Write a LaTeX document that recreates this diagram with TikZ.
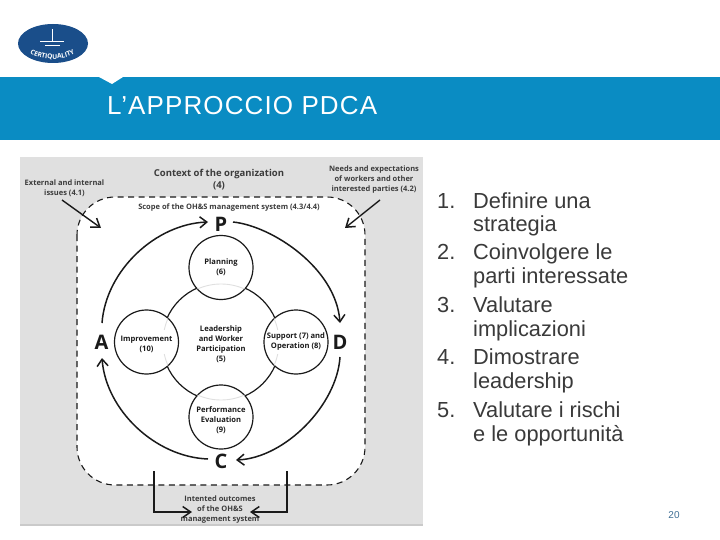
\documentclass[tikz,border=0pt]{standalone}
\usepackage{fontspec}
\setmainfont{Liberation Sans}
\newfontfamily\diagfont{Open Sans}
\usetikzlibrary{arrows.meta,decorations.text,shapes.geometric}
\definecolor{band}{HTML}{0A8CC3}
\definecolor{logoblue}{HTML}{1A4E8A}
\definecolor{panel}{HTML}{E0E0E0}
\definecolor{ink}{HTML}{1A1A1A}
\definecolor{listtext}{HTML}{3A3A3A}
\definecolor{pagenum}{HTML}{3F6F95}
\tikzset{
  x=1pt,y=-1pt,
  phasefont/.style={align=center,font=\diagfont\bfseries\fontsize{7.6}{10}\selectfont,text=ink},
  phase/.style={circle,draw=ink,line width=1.2pt,fill=white,minimum size=64pt,inner sep=0pt,phasefont},
  phaselabel/.style={phasefont,inner sep=0pt},
  core/.style={circle,draw=ink,line width=1.2pt,minimum size=118pt,inner sep=0pt},
  faintarc/.style={draw=panel,line width=0.9pt},
  letter/.style={font=\diagfont\bfseries\fontsize{20}{20}\selectfont,text=ink,inner sep=0pt},
  caption/.style={align=center,font=\diagfont\bfseries\fontsize{7.5}{10}\selectfont,text=ink!85!white,inner sep=0pt},
  cyclearrow/.style={draw=ink,line width=1.5pt,-{Straight Barb[length=7pt,width=11pt,line width=1.5pt]}},
  pointer/.style={draw=ink,line width=1.4pt,-{Straight Barb[length=8pt,width=11pt,line width=1.5pt]}},
  listitem/.style={anchor=base west,inner sep=0pt,text=listtext,font=\fontsize{21.8}{22}\selectfont},
}
\begin{document}
\begin{tikzpicture}
\useasboundingbox (0,0) rectangle (720,540);
\fill[white] (0,0) rectangle (720,540);
% header band
\fill[band] (0,77) rectangle (720,140);
\fill[white] (99,77) -- (123,77) -- (112,84) -- cycle;
\node[anchor=base west,inner sep=0pt,text=white,font=\addfontfeature{LetterSpace=4.3}\fontsize{26}{26}\selectfont] (title) at (107,115) {L’APPROCCIO PDCA};
% logo
\node[ellipse,fill=logoblue,minimum width=70pt,minimum height=39pt,inner sep=0pt] (logo) at (53,43.5) {};
\draw[white,line width=0.9pt] (52,29) -- (52,42) (40,41.7) -- (64,41.7) (45,45.2) -- (60,45.2);
\path[decorate,decoration={text along path,text align=center,text={|\diagfont\bfseries\fontsize{6.6}{6}\selectfont\color{white}|CERTIQUALITY}}]
  (24,48) .. controls (36,62) and (68,63) .. (81,49);
% panel
\fill[panel] (20,157) rectangle (423,526);
\fill[panel!90!black] (20,524) rectangle (423,526);
\draw[fill=white,draw=ink,line width=1.1pt,dash pattern=on 6pt off 4.5pt,rounded corners=38pt] (77,197) rectangle (365,485);
% core and phases
\node[core] (lead) at (221,342) {};
\node[phase] (plan) at (221,267.5) {Planning\\(6)};
\node[phase,label={[phaselabel,yshift=-2pt]center:Improvement\\(10)}] (impr) at (146.5,342) {};
\node[phase] (supp) at (296,342) {Support (7) and\\Operation (8)};
\node[phase,label={[phaselabel,yshift=-3pt]center:Performance\\Evaluation\\(9)}] (perf) at (221,417) {};
\foreach \a/\b in {66/114,246/294,-24/-12,12/24,156/168,192/204}
  \draw[faintarc] ({221+58*cos(\a)},{342+58*sin(\a)}) arc[start angle=\a,end angle=\b,radius=58];
\node[phaselabel] (leadtext) at (221,344.5) {Leadership\\and Worker\\Participation\\(5)};
% letters
\node[letter] (P) at (221,224) {P};
\node[letter] (D) at (340,342) {D};
\node[letter] (C) at (221,461) {C};
\node[letter] (A) at (101.5,342) {A};
\draw[cyclearrow] (233,222) .. controls (272,226) and (336,268) .. (340,323);
\draw[cyclearrow] (340,357) .. controls (337,405) and (285,458) .. (236,460);
\draw[cyclearrow] (208,459) .. controls (155,457) and (106,410) .. (102,358);
\draw[cyclearrow] (102,323) .. controls (106,270) and (156,224) .. (208,222);
% captions
\node[caption,font=\diagfont\bfseries\fontsize{9.5}{12}\selectfont] (ctx) at (219,179.5) {Context of the organization\\(4)};
\node[caption] (ext) at (64.5,188) {External and internal\\issues (4.1)};
\node[caption] (needs) at (374,180) {Needs and expectations\\of workers and other\\interested parties (4.2)};
\node[caption] (scope) at (229,208) {Scope of the OH\&S management system (4.3/4.4)};
\node[caption] (out) at (220,510) {Intented outcomes\\of the OH\&S\\management system};
\coordinate (extstart) at (62,200);
\coordinate (extend) at (101,228);
\coordinate (needstart) at (380,200);
\coordinate (needend) at (345,228);
\draw[pointer] (extstart) -- (extend);
\draw[pointer] (needstart) -- (needend);
\coordinate (la) at (154,471);
\coordinate (lb) at (154,512);
\coordinate (lc) at (192,512);
\coordinate (ra) at (287,471);
\coordinate (rb) at (287,512);
\coordinate (rc) at (250,512);
\draw[pointer] (la) -- (lb) -- (lc);
\draw[pointer] (ra) -- (rb) -- (rc);
% list
\node[listitem] (n1) at (437,208) {1.};
\node[listitem] (t1) at (473,208) {Definire una};
\node[listitem] (t1b) at (473,232) {strategia};
\node[listitem] (n2) at (437,259) {2.};
\node[listitem] (t2) at (473,259) {Coinvolgere le};
\node[listitem] (t2b) at (473,283) {parti interessate};
\node[listitem] (n3) at (437,312) {3.};
\node[listitem] (t3) at (473,312) {Valutare};
\node[listitem] (t3b) at (473,336) {implicazioni};
\node[listitem] (n4) at (437,364) {4.};
\node[listitem] (t4) at (473,364) {Dimostrare};
\node[listitem] (t4b) at (473,388) {leadership};
\node[listitem] (n5) at (437,417) {5.};
\node[listitem] (t5) at (473,417) {Valutare i rischi};
\node[listitem] (t5b) at (473,441) {e le opportunità};
\node[inner sep=0pt,text=pagenum,font=\fontsize{10}{10}\selectfont] (page) at (674,515) {20};
\end{tikzpicture}
\end{document}
